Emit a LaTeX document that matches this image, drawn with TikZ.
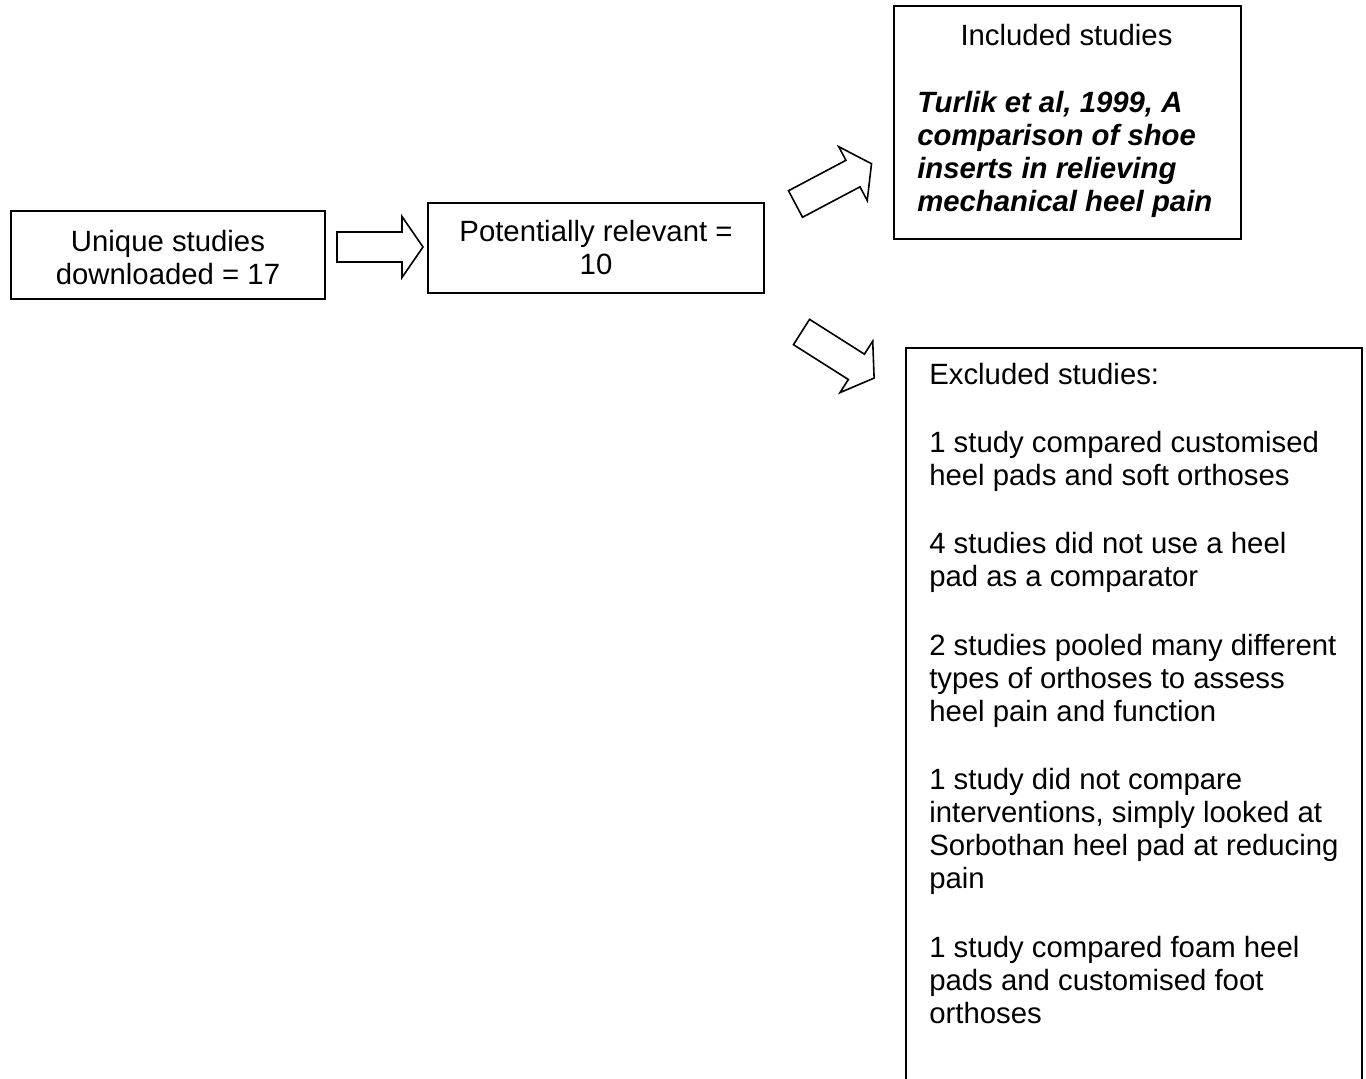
\documentclass[tikz,border=0pt]{standalone}
\usepackage{fontspec}
\setmainfont{Liberation Sans}
\usetikzlibrary{positioning}
\tikzset{
  fbox/.style={rectangle, draw=black, line width=1.2pt, inner sep=0pt,
    align=center, font=\fontsize{22}{24.75}\selectfont},
  ftxt/.style={inner sep=0pt, align=left, font=\fontsize{22}{24.75}\selectfont},
  blockarrow/.pic={
    \draw[line width=1.2pt, line join=miter]
      (0,15) -- (65,15) -- (65,30.5) -- (86,0) -- (65,-30.5) -- (65,-15) -- (0,-15) -- cycle;
  }
}

\begin{document}
\begin{tikzpicture}[x=0.75pt, y=0.75pt]
    \useasboundingbox (0,0) rectangle (1366,-1078);

    % search stages
    \node[fbox, minimum width=235.5pt, minimum height=66pt] (unique) at (168,-255) {};
    \node[ftxt, align=center] (uniqueT) at (168,-257.5) {Unique studies\\downloaded = 17};
    \node[fbox, minimum width=252pt, minimum height=67.5pt] (relevant) at (596,-248)
      {Potentially relevant =\\10};

    % included
    \node[fbox, minimum width=260.25pt, minimum height=174.75pt, anchor=north west]
      (incl) at (893,-5) {};
    \node[ftxt, anchor=north] (inclT) at (1066.5,-24) {Included studies};
    \node[ftxt, anchor=north west, font=\fontsize{22}{24.75}\selectfont\bfseries\itshape]
      (inclB) at (917,-91)
      {Turlik et al, 1999, A\\comparison of shoe\\inserts in relieving\\mechanical heel pain};

    % excluded (box runs off the page)
    \coordinate (exclTL) at (906,-348);
    \coordinate (exclTR) at (1362,-348);
    \draw[line width=1.2pt] ([yshift=-800]exclTL) -- (exclTL) -- (exclTR) -- ([yshift=-800]exclTR);
    \node[ftxt, anchor=north west] (excl) at (929,-362.5)
      {Excluded studies:\\[26.6pt]
       1 study compared customised\\heel pads and soft orthoses\\[26.6pt]
       4 studies did not use a heel\\pad as a comparator\\[26.6pt]
       2 studies pooled many different\\types of orthoses to assess\\heel pain and function\\[26.6pt]
       1 study did not compare\\interventions, simply looked at\\Sorbothan heel pad at reducing\\pain\\[26.6pt]
       1 study compared foam heel\\pads and customised foot\\orthoses};

    % block arrows
    \pic at (337,-247) {blockarrow};
    \pic[rotate=27.9] at (795.5,-204) {blockarrow};
    \pic[rotate=-32.4] at (801.5,-332) {blockarrow};
\end{tikzpicture}
\end{document}
